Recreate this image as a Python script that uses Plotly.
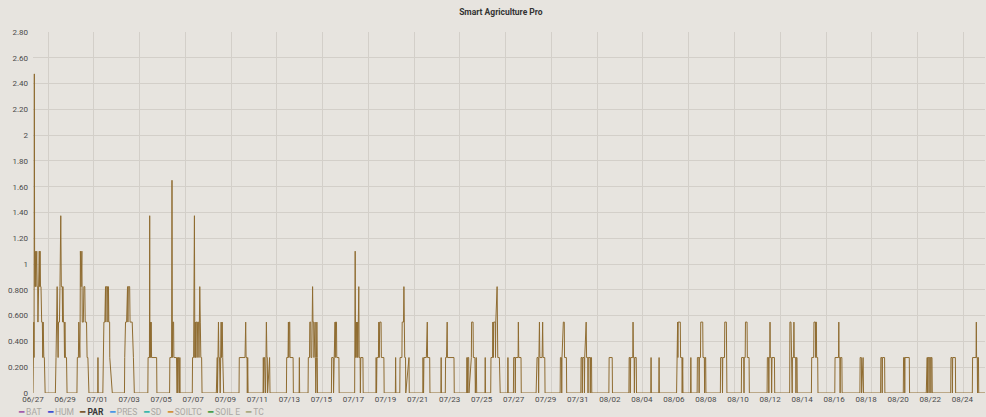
import plotly.graph_objects as go
import pandas as pd

TITLE = "Smart Agriculture Pro"
START = "2023-06-27 00:00"
RANGE_HOURS = 1426          # visible span of the time axis, hours after START

# PAR readings: (hours after START, value)
PAR_POINTS = [
    (0.0, 0), (0.8, 0.275), (1.2, 0.55), (1.6, 0.275), (2.0, 2.475), (2.4, 1.1), (3.0, 0.825), (3.4, 1.1),
    (4.2, 0.825), (4.8, 1.1), (5.6, 1.1), (6.2, 0.825), (7.0, 0.825), (7.4, 0.55), (8.0, 0.825), (9.4, 1.1),
    (10.0, 0.825), (10.6, 1.1), (11.2, 0.825), (12.0, 0.825), (13.0, 0.55), (14.0, 0.55), (14.6, 0.275),
    (15.2, 0.55), (16.2, 0.275), (17.0, 0.275), (18.2, 0),
    (33.5, 0), (34.5, 0.275), (35.3, 0.55), (36.2, 0.825), (36.8, 0.55), (37.6, 0.275), (38.2, 0.55),
    (39.6, 0.55), (40.4, 0.825), (41.6, 1.375), (42.4, 0.825), (43.8, 0.825), (44.3, 0.55), (44.8, 0.825),
    (45.6, 0.55), (46.6, 0.55), (47.2, 0.275), (47.8, 0.55), (48.6, 0.275), (50.2, 0.275), (51.0, 0),
    (65.8, 0), (66.4, 0.275), (68.0, 0.275), (68.6, 0.55), (69.2, 0.275), (70.2, 0.275), (70.6, 0.55),
    (71.0, 1.1), (72.0, 0.825), (72.6, 1.1), (73.2, 1.1), (73.8, 0.55), (75.4, 0.55), (76.2, 0.825),
    (77.6, 0.825), (78.2, 0.55), (80.2, 0.55), (81.0, 0.275), (82.2, 0.275), (83.8, 0),
    (97.0, 0), (97.3, 0.275), (97.6, 0),
    (104.6, 0), (105.2, 0.275), (106.2, 0.55), (107.6, 0.55), (108.6, 0.825), (109.2, 0.55), (109.8, 0.825),
    (111.6, 0.825), (112.2, 0.55), (113.0, 0.825), (113.6, 0.55), (114.8, 0.55), (115.0, 0.275), (118.8, 0),
    (137.0, 0), (137.4, 0.275), (138.6, 0.55), (140.2, 0.55), (141.6, 0.825), (142.2, 0.55), (142.8, 0.825),
    (144.8, 0.825), (145.4, 0.55), (148.6, 0.55), (149.4, 0.275), (150.4, 0.275), (151.8, 0),
    (172.0, 0), (172.4, 0.275), (174.4, 0.275), (174.8, 1.375), (175.2, 0.275), (175.8, 0.55), (176.4, 0.275),
    (177.0, 0.55), (177.6, 0.275), (185.2, 0.275), (185.6, 0),
    (204.6, 0), (205.0, 0.275), (207.6, 0.275), (208.2, 1.65), (208.8, 0.275), (209.4, 0.55), (210.6, 0.55),
    (211.0, 0.275), (215.0, 0.275), (215.8, 0), (216.4, 0.275), (217.0, 0), (217.8, 0.275), (218.6, 0.275),
    (219.4, 0), (220.0, 0.275), (220.4, 0),
    (238.6, 0), (239.0, 0.275), (240.6, 0.275), (241.8, 1.375), (242.4, 0.275), (243.0, 0.55), (243.6, 0.275),
    (244.2, 0.55), (245.4, 0.55), (245.8, 0.275), (246.6, 0.55), (248.0, 0.55), (248.6, 0.275), (249.8, 0.825),
    (250.6, 0.55), (251.4, 0.275), (252.6, 0.275), (253.2, 0),
    (274.6, 0), (275.0, 0.275), (276.0, 0.275), (276.4, 0), (277.8, 0.55), (278.4, 0.275), (279.4, 0.275),
    (280.4, 0), (281.8, 0.55), (282.4, 0.275), (283.4, 0.55), (284.2, 0.275), (285.6, 0),
    (308.6, 0), (309.0, 0.275), (317.6, 0.275), (318.6, 0.55), (319.2, 0.275), (320.6, 0.275), (321.0, 0),
    (321.6, 0.275), (322.2, 0),
    (344.6, 0), (345.0, 0.275), (345.6, 0), (346.2, 0.275), (347.0, 0.275), (348.4, 0), (349.6, 0.55),
    (350.4, 0.275), (351.0, 0.275), (351.4, 0), (354.4, 0.275), (355.0, 0),
    (379.6, 0), (380.0, 0.275), (382.0, 0.275), (382.6, 0.55), (383.2, 0.275), (383.8, 0.55), (384.6, 0.55),
    (385.0, 0.275), (389.6, 0.275), (390.0, 0),
    (398.6, 0), (399.0, 0.275), (399.4, 0),
    (412.0, 0), (412.4, 0.275), (414.2, 0.275), (414.6, 0.55), (416.0, 0.55), (416.4, 0.275), (417.6, 0.275),
    (418.0, 0.55), (418.8, 0.825), (419.4, 0.55), (420.4, 0.55), (420.8, 0.275), (421.8, 0.55), (422.6, 0.55),
    (423.0, 0.275), (423.6, 0), (424.6, 0.275), (425.2, 0.55), (425.8, 0.275), (426.2, 0),
    (447.0, 0), (447.4, 0.275), (449.8, 0.275), (450.2, 0), (451.2, 0.275), (451.6, 0.55), (452.4, 0.55),
    (452.8, 0.275), (453.2, 0.55), (454.6, 0.55), (455.0, 0.275), (458.2, 0.275), (458.6, 0),
    (481.8, 0), (482.6, 1.1), (483.2, 0.275), (484.6, 0.55), (485.2, 0.275), (486.0, 0.55), (486.6, 0.275),
    (488.0, 0.825), (488.6, 0.275), (490.0, 0.275), (490.4, 0), (491.0, 0.275), (494.2, 0.275), (494.6, 0),
    (513.6, 0), (514.0, 0.275), (514.6, 0), (515.2, 0.275), (517.4, 0.275), (518.0, 0.55), (518.6, 0.275),
    (519.4, 0.55), (521.4, 0.55), (521.8, 0.275), (525.6, 0.275), (526.0, 0),
    (542.8, 0), (543.2, 0.275), (543.6, 0),
    (549.4, 0), (549.8, 0.275), (552.6, 0.275), (553.0, 0.55), (555.0, 0.55), (555.6, 0.825), (556.2, 0.55),
    (556.8, 0.275), (558.0, 0.275), (558.4, 0), (563.2, 0.275), (563.6, 0),
    (583.8, 0), (584.2, 0.275), (585.0, 0), (585.6, 0.275), (589.2, 0.275), (589.6, 0.55), (590.6, 0.55),
    (591.0, 0.275), (594.2, 0.275), (594.6, 0),
    (611.0, 0), (611.4, 0.275), (611.8, 0),
    (617.6, 0), (618.0, 0.275), (619.4, 0.275), (619.8, 0.55), (620.4, 0.55), (620.8, 0.275), (630.6, 0.275),
    (631.0, 0),
    (649.6, 0), (650.0, 0.275), (650.6, 0), (651.2, 0.275), (652.6, 0.275), (653.0, 0), (656.6, 0.275),
    (657.0, 0.55), (659.2, 0.55), (659.6, 0.275), (662.0, 0.275), (662.6, 0), (664.0, 0.275), (664.6, 0),
    (677.0, 0), (677.4, 0.275), (677.8, 0),
    (685.6, 0), (686.0, 0.275), (688.4, 0.275), (688.8, 0.55), (689.6, 0.275), (690.0, 0.55), (692.4, 0.55),
    (692.8, 0.275), (693.2, 0.55), (695.2, 0.825), (695.8, 0.55), (696.2, 0.275), (698.6, 0.275), (699.0, 0),
    (699.4, 0.275), (699.8, 0),
    (711.0, 0), (711.4, 0.275), (711.8, 0),
    (719.6, 0), (720.0, 0.275), (722.0, 0.275), (722.4, 0), (722.8, 0.275), (726.6, 0.275), (727.0, 0.55),
    (727.6, 0.275), (731.0, 0.275), (731.4, 0),
    (753.6, 0), (754.0, 0.275), (754.6, 0), (755.0, 0.275), (756.8, 0.275), (757.4, 0), (757.8, 0.275),
    (758.6, 0.55), (759.2, 0.275), (762.6, 0.275), (763.4, 0.55), (764.0, 0.275), (766.6, 0.275), (767.0, 0),
    (789.6, 0), (790.0, 0.275), (791.6, 0.275), (792.0, 0), (792.4, 0.275), (794.4, 0.55), (795.8, 0.55),
    (796.2, 0.275), (799.0, 0.275), (799.4, 0),
    (820.6, 0), (821.0, 0.275), (822.4, 0.275), (822.8, 0), (823.4, 0.275), (825.6, 0.275), (826.0, 0),
    (826.4, 0.275), (828.6, 0.55), (829.2, 0.275), (831.0, 0.275), (831.4, 0), (831.8, 0.275), (834.4, 0.275),
    (834.8, 0), (835.2, 0.275), (836.6, 0.275), (837.0, 0),
    (862.6, 0), (863.0, 0.275), (867.6, 0.275), (868.0, 0),
    (892.6, 0), (893.0, 0.275), (894.2, 0.275), (894.6, 0), (895.2, 0.275), (898.4, 0.275), (898.8, 0.55),
    (899.4, 0.275), (900.4, 0.275), (900.8, 0), (901.4, 0.275), (903.6, 0.275), (904.0, 0),
    (925.4, 0), (925.8, 0.275), (926.2, 0),
    (937.4, 0), (937.8, 0.275), (938.2, 0),
    (964.0, 0), (964.4, 0.275), (964.8, 0.55), (965.6, 0.55), (966.0, 0.275), (966.4, 0.55), (969.6, 0.55),
    (970.0, 0.275), (972.0, 0.275), (972.4, 0), (973.2, 0.275), (973.6, 0),
    (985.0, 0), (985.4, 0.275), (985.8, 0),
    (994.8, 0), (995.2, 0.275), (997.4, 0.275), (997.8, 0), (998.2, 0.275), (999.8, 0.275), (1000.2, 0.55),
    (1003.2, 0.55), (1003.6, 0.275), (1005.6, 0.275), (1006.0, 0), (1006.6, 0.275), (1007.6, 0.275), (1008.0, 0),
    (1029.6, 0), (1030.0, 0.275), (1032.4, 0.275), (1032.8, 0), (1033.2, 0.275), (1035.8, 0.275), (1036.2, 0.55),
    (1038.6, 0.55), (1039.0, 0.275), (1039.4, 0),
    (1061.0, 0), (1061.4, 0.275), (1064.6, 0.275), (1065.0, 0), (1065.4, 0.275), (1066.8, 0.275), (1067.2, 0.55),
    (1069.6, 0.55), (1070.0, 0.275), (1072.6, 0.275), (1073.0, 0),
    (1099.6, 0), (1100.0, 0.275), (1101.8, 0.275), (1102.2, 0), (1102.6, 0.275), (1103.6, 0.275), (1104.0, 0.55),
    (1104.4, 0.275), (1106.0, 0.275), (1106.4, 0), (1107.0, 0.275), (1110.6, 0.275), (1111.0, 0),
    (1133.4, 0), (1133.8, 0.55), (1135.4, 0.55), (1135.8, 0.275), (1136.8, 0.275), (1137.2, 0), (1137.6, 0.275),
    (1139.4, 0.275), (1139.8, 0.55), (1140.2, 0.275), (1142.4, 0.275), (1142.8, 0), (1143.4, 0.275),
    (1144.4, 0.275), (1144.8, 0),
    (1166.0, 0), (1166.4, 0.275), (1169.4, 0.275), (1169.8, 0.55), (1172.0, 0.55), (1172.4, 0.275), (1172.8, 0.55),
    (1173.4, 0.55), (1173.8, 0.275), (1175.4, 0.275), (1175.8, 0),
    (1201.0, 0), (1201.4, 0.275), (1206.6, 0.275), (1207.0, 0.55), (1207.4, 0.275), (1208.6, 0.275), (1209.0, 0),
    (1209.4, 0.275), (1211.6, 0.275), (1212.0, 0),
    (1238.6, 0), (1239.0, 0.275), (1240.8, 0.275), (1241.2, 0), (1243.4, 0.275), (1244.0, 0),
    (1269.6, 0), (1270.0, 0.275), (1271.6, 0.275), (1272.0, 0), (1272.4, 0.275), (1275.6, 0.275), (1276.0, 0),
    (1303.6, 0), (1304.0, 0.275), (1305.4, 0.275), (1305.8, 0), (1306.2, 0.275), (1312.6, 0.275), (1313.0, 0),
    (1338.0, 0), (1338.4, 0.275), (1339.4, 0.275), (1339.8, 0), (1340.2, 0.275), (1341.8, 0.275), (1342.2, 0),
    (1342.6, 0.275), (1344.6, 0.275), (1345.0, 0), (1345.4, 0.275), (1346.6, 0.275), (1347.0, 0),
    (1374.6, 0), (1375.0, 0.275), (1376.8, 0.275), (1377.2, 0), (1377.6, 0.275), (1381.6, 0.275), (1382.0, 0),
    (1407.0, 0), (1407.4, 0.275), (1412.6, 0.275), (1413.0, 0.55), (1413.4, 0.275), (1414.4, 0.275), (1414.8, 0),
    (1415.2, 0.275), (1416.2, 0.275), (1416.6, 0),
    (1426.0, 0),
]

Y_TICK_VALUES = [0, 0.2, 0.4, 0.6, 0.8, 1.0, 1.2, 1.4, 1.6, 1.8, 2.0, 2.2, 2.4, 2.6, 2.8]
Y_TICK_TEXT = ["0", "0.200", "0.400", "0.600", "0.800", "1", "1.20", "1.40", "1.60", "1.80",
               "2", "2.20", "2.40", "2.60", "2.80"]

SERIES_NAMES = ["BAT", "HUM", "PAR", "PRES", "SD", "SOILTC", "SOIL E", "TC"]
SERIES_COLORS = ["#9b4fa6", "#2f3fd0", "#6e4a17", "#3a8ee6", "#2bb3a6", "#d08a2c", "#3a963a", "#a3a37a"]
ACTIVE_SERIES = "PAR"

GRID_OFFSET_HOURS = 22.5     # vertical grid lines spacing (from the source chart)
GRID_STEP_HOURS = 68.55

start = pd.Timestamp(START)
times = [start + pd.Timedelta(hours=h) for h, _ in PAR_POINTS]
values = [v for _, v in PAR_POINTS]
end = start + pd.Timedelta(hours=RANGE_HOURS)

BG = "#e7e4df"
GRID = "#d3cfc9"
FONT = "Roboto"

fig = go.Figure()
fig.add_trace(go.Scatter(
    x=times, y=values, mode="lines", name="PAR",
    line=dict(color="#8f6c31", width=1), showlegend=False, hoverinfo="x+y",
))

legend_parts = []
for name, color in zip(SERIES_NAMES, SERIES_COLORS):
    txt_color = "#3a3a3a" if name == ACTIVE_SERIES else "#aaa7a2"
    label = f"<b>{name}</b>" if name == ACTIVE_SERIES else name
    legend_parts.append(
        f'<span style="color:{color}">━</span>'
        f'<span style="color:{txt_color}"> {label}</span>'
    )
legend_text = "&nbsp;&nbsp;&nbsp;".join(legend_parts)

fig.update_layout(
    width=986, height=417,
    paper_bgcolor=BG, plot_bgcolor=BG,
    margin=dict(l=33, r=1, t=32, b=24),
    font=dict(family=FONT, size=8, color="#4a4a4a"),
    title=dict(text=TITLE, x=0.508, xanchor="center", y=1 - 12.5 / 417, yanchor="middle",
               yref="container", font=dict(family=FONT, size=8.5, color="#333333", weight="bold")),
    showlegend=False,
    xaxis=dict(
        type="date", range=[start, end], tick0=start, dtick=2 * 86400000, tickformat="%m/%d",
        showgrid=False, zeroline=False, showline=False, ticks="",
        tickfont=dict(family=FONT, size=8, color="#4a4a4a"),
        minor=dict(
            tick0=start + pd.Timedelta(hours=GRID_OFFSET_HOURS), dtick=GRID_STEP_HOURS * 3600000,
            showgrid=True, gridcolor=GRID, gridwidth=1, ticks="",
        ),
    ),
    yaxis=dict(
        range=[0, 2.8], tickvals=Y_TICK_VALUES, ticktext=Y_TICK_TEXT,
        showgrid=True, gridcolor=GRID, gridwidth=1, zeroline=False, showline=False, ticks="",
        ticklabelstandoff=4, tickfont=dict(family=FONT, size=8, color="#4a4a4a"),
    ),
    annotations=[dict(
        text=legend_text, xref="paper", yref="paper", x=-0.018, y=(393 - 412) / 361,
        xanchor="left", yanchor="middle", showarrow=False,
        font=dict(family=FONT, size=8.5),
    )],
)

fig.write_html(
    "out.html",
    config={"displayModeBar": False},
    post_script=("document.body.style.margin='0';document.body.style.overflow='hidden';"
                 f"document.body.style.background='{BG}';"),
)
